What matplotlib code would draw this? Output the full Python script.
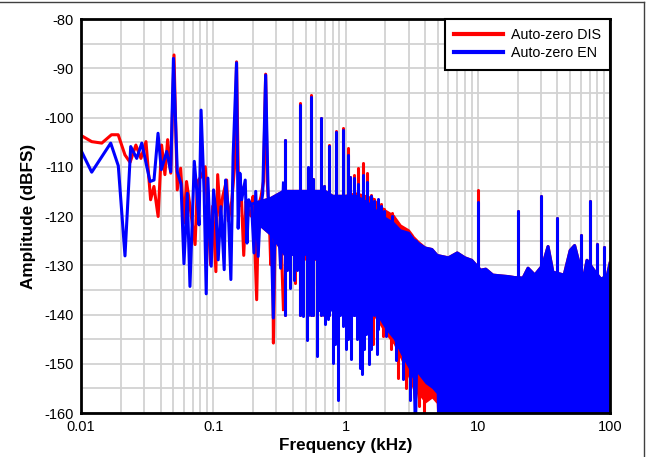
import matplotlib
matplotlib.use("Agg")
import matplotlib.pyplot as plt
from matplotlib.ticker import FixedLocator, LogLocator, MultipleLocator, NullFormatter
from matplotlib.lines import Line2D

plt.rcParams['font.family'] = ['Liberation Sans', 'DejaVu Sans']
plt.rcParams['axes.unicode_minus'] = False

# ---------------- data (frequency in kHz, amplitude in dBFS) ----------------
# low-frequency individual points
en_lf_f = [0.0101, 0.01205, 0.01677, 0.01914, 0.02151, 0.02376, 0.02638, 0.02881, 0.03325, 0.03565,
           0.03823, 0.04048, 0.04446, 0.0477, 0.0500, 0.05345, 0.05704, 0.06004, 0.06361, 0.06667,
           0.0719, 0.07499, 0.0781, 0.0809, 0.08537, 0.08847, 0.09111, 0.09651, 0.1005, 0.1048,
           0.109, 0.1143, 0.121, 0.124, 0.1297, 0.1359, 0.1413, 0.150, 0.1543, 0.159,
           0.164, 0.1745, 0.1799, 0.1855, 0.1952, 0.2033, 0.2095, 0.2186, 0.2262, 0.2366,
           0.249, 0.2603, 0.272, 0.2845, 0.293, 0.307, 0.323, 0.3394]
en_lf_v = [-106.9, -111.1, -105.2, -109.8, -128.1, -105.9, -108.3, -105.2, -113.0, -112.7,
           -103.2, -110.6, -106.9, -111.0, -88.0, -111.0, -113.5, -129.7, -115.4, -134.3,
           -108.9, -114.7, -121.8, -98.5, -115.4, -135.8, -112.3, -130.2, -114.7, -119.4,
           -128.9, -118.1, -130.9, -112.7, -118.4, -132.9, -107.9, -88.9, -122.5, -111.3,
           -116.7, -112.7, -125.5, -116.7, -118.1, -127.5, -115.0, -128.2, -119.4, -115.4,
           -91.4, -116.0, -119.4, -140.7, -121.1, -118.1, -130.6, -113.3]

dis_lf_f = [0.0101, 0.01205, 0.01436, 0.0170, 0.0191, 0.0215, 0.0235, 0.0260, 0.0284, 0.0310,
            0.0336, 0.0356, 0.0383, 0.0407, 0.0431, 0.0452, 0.0477, 0.0505, 0.0534, 0.0567,
            0.0600, 0.0628, 0.0667, 0.0729, 0.076, 0.0809, 0.087, 0.0955, 0.099, 0.1047,
            0.108, 0.113, 0.118, 0.1262, 0.130, 0.138, 0.145, 0.150, 0.156, 0.162,
            0.170, 0.177, 0.185, 0.193, 0.200, 0.213, 0.220, 0.230, 0.240, 0.249,
            0.256, 0.265, 0.272, 0.280, 0.285, 0.295, 0.310, 0.325, 0.3394]
dis_lf_v = [-103.7, -104.9, -105.2, -103.5, -103.5, -107.6, -109.1, -105.6, -108.3, -104.9,
            -116.7, -114.0, -120.1, -105.6, -111.6, -104.5, -111.3, -87.3, -114.7, -110.3,
            -121.4, -113.0, -118.0, -125.8, -113.0, -112.0, -110.0, -129.9, -118.0, -131.3,
            -111.6, -120.0, -116.0, -112.7, -121.0, -117.0, -110.0, -88.7, -118.0, -114.0,
            -128.0, -117.0, -119.0, -120.0, -116.0, -137.0, -118.0, -116.0, -113.0, -91.2,
            -113.0, -120.0, -129.9, -118.0, -145.8, -121.0, -117.0, -124.0, -139.0]

# dense region: envelope of the noise band
env_f = [0.20, 0.27, 0.34, 0.40, 0.50, 0.60, 0.70, 0.80, 0.90, 1.00,
         1.20, 1.40, 1.60, 1.80, 2.00, 2.30, 2.60, 3.00,
         3.20, 3.25, 3.45, 3.50, 4.00, 4.50, 4.85, 4.90,
         6.0, 7.0, 8.0, 9.0, 10.5, 11.5, 13.0, 15.5, 17.0,
         19.0, 22.0, 24.0, 27.0, 31.0, 34.0, 37.0, 45.0,
         50.0, 54.0, 57.0, 63.0, 67.0, 75.0, 85.0, 95.0, 100.0]
en_top = [-117.5, -116.5, -115, -115, -115, -115, -115, -116, -116, -116,
          -116, -117, -118, -120, -120.5, -121.5, -123, -123.5,
          -124.5, -124.8, -125.2, -125.5, -126.5, -126.8, -127.8, -128,
          -128.5, -127.5, -128.5, -129, -131, -130.8, -132, -132.2, -132.3,
          -132.5, -132.6, -130.6, -132, -130, -126.2, -131.4, -132,
          -127, -126, -128.5, -132.8, -129, -130.9, -132.8, -132.3, -129.6]
en_bot = [-121, -124, -128, -128, -128, -129, -129, -130, -131, -133,
          -135, -137, -139, -141, -143, -145, -148, -151,
          -153, -162, -162, -152, -154, -155, -156, -162,
          -162, -162, -162, -162, -162, -162, -162, -162, -162,
          -162, -162, -162, -162, -162, -162, -162, -162,
          -162, -162, -162, -162, -162, -162, -162, -162, -162]
dis_top = [-117.5, -116.5, -115, -115, -115, -115, -115, -116, -116, -116,
           -115.5, -116, -116.5, -118, -119, -120, -122, -123,
           -124, -124.3, -125, -125.2, -126.5, -126.8, -127.8, -128,
           -128.5, -127.5, -128.5, -129, -131, -130.8, -132, -132.2, -132.3,
           -132.5, -132.6, -130.6, -132, -130, -126.2, -131.4, -132,
           -127, -126, -128.5, -132.8, -129, -130.9, -132.8, -132.3, -129.6]
dis_bot = [-121, -124, -128, -128, -129, -129, -130, -131, -132, -134,
           -136, -138, -140, -142, -144, -146, -149, -153,
           -155, -157, -157, -156, -158, -157, -158, -162,
           -162, -162, -162, -162, -162, -162, -162, -162, -162,
           -162, -162, -162, -162, -162, -162, -162, -162,
           -162, -162, -162, -162, -162, -162, -162, -162, -162]

# tones / spurs
spk_f = [0.35, 0.45, 0.52, 0.55, 0.565, 0.65, 0.69, 0.75, 0.85, 0.95,
         1.05, 1.08, 1.15, 1.25, 1.35, 1.45, 1.55, 1.65, 1.75, 1.85,
         1.95, 2.25, 10.0, 20.0, 30.0, 40.0, 60.0, 70.0, 80.0, 90.0]
en_spk = [-104.5, -97.4, -110.0, -95.8, -112.4, -100.1, -114.0, -105.8, -102.9, -102.5,
          -107.6, -112.0, -112.3, -113.5, -111.6, -113.0, -116.0, -117.0, -116.5, -118.0,
          -119.0, -120.0, -117.2, -118.9, -116.0, -120.4, -123.8, -116.9, -125.6, -126.3]
dis_spk = [-104.5, -97.0, -111.0, -95.4, -112.4, -100.0, -114.0, -105.6, -102.8, -102.2,
           -106.2, -112.0, -111.6, -110.3, -109.3, -111.3, -115.7, -116.5, -117.5, -117.6,
           -118.5, -119.4, -114.8, -118.9, -116.0, -120.4, -123.8, -116.9, -125.6, -126.3]

# deep nulls
en_dip_f = [0.36, 0.38, 0.41, 0.43, 0.46, 0.48, 0.509, 0.53, 0.57, 0.605,
            0.63, 0.679, 0.70, 0.74, 0.77, 0.80, 0.83, 0.873, 0.91, 0.962,
            1.0, 1.05, 1.1, 1.16, 1.22, 1.287, 1.33, 1.38, 1.429, 1.5,
            1.55, 1.72, 1.77, 2.03, 2.42, 2.70, 3.07]
en_dip_v = [-131.0, -134.6, -133.0, -131.0, -136.0, -140.4, -145.1, -137.0, -134.0, -148.5,
            -139.0, -137.0, -142.0, -141.0, -139.0, -149.8, -146.0, -157.3, -140.0, -142.4,
            -147.0, -145.0, -149.0, -140.0, -145.0, -150.9, -152.0, -147.0, -144.0, -150.0,
            -147.0, -148.0, -143.0, -144.4, -149.2, -153.0, -157.3]
dis_dip_f = [0.415, 0.569, 0.72, 1.62, 1.93, 2.2, 2.5, 2.85, 3.6, 3.9, 4.3]
dis_dip_v = [-133.6, -135.0, -139.0, -146.0, -144.4, -147.1, -152.9, -155.0, -158.6, -160.5, -157.0]

series_names = ['Auto-zero DIS', 'Auto-zero EN']
series_colors = ['#ff0000', '#0000ff']
yticks = [-80, -90, -100, -110, -120, -130, -140, -150, -160]
xticks = [0.01, 0.1, 1, 10, 100]
xticklabels = ['0.01', '0.1', '1', '10', '100']

# ---------------- figure ----------------
W, H = 654, 457
fig = plt.figure(figsize=(W / 100, H / 100), dpi=100)
ax = fig.add_axes([81 / W, (H - 413) / H, (610 - 81) / W, (413 - 19) / H])
ax.set_xscale('log')
ax.set_xlim(0.01, 100)
ax.set_ylim(-160, -80)

LW = 2.2

def draw(lf_f, lf_v, top, bot, spk, dip_f, dip_v, color, z):
    ax.fill_between(env_f, bot, top, color=color, lw=0, zorder=z)
    ax.plot(env_f, top, color=color, lw=LW, zorder=z, solid_joinstyle='round')
    ax.plot(lf_f, lf_v, color=color, lw=LW, zorder=z, solid_joinstyle='round')
    ax.vlines(spk_f, -140, spk, color=color, lw=LW, zorder=z, capstyle='round')
    ax.vlines(dip_f, dip_v, -127.5, color=color, lw=LW, zorder=z, capstyle='round')

draw(dis_lf_f, dis_lf_v, dis_top, dis_bot, dis_spk, dis_dip_f, dis_dip_v, series_colors[0], 3)
draw(en_lf_f, en_lf_v, en_top, en_bot, en_spk, en_dip_f, en_dip_v, series_colors[1], 4)

# grid / ticks
ax.xaxis.set_major_locator(FixedLocator(xticks))
ax.set_xticklabels(xticklabels)
ax.xaxis.set_minor_locator(LogLocator(base=10, subs=range(2, 10)))
ax.xaxis.set_minor_formatter(NullFormatter())
ax.set_yticks(yticks)
ax.yaxis.set_minor_locator(MultipleLocator(5))
ax.grid(which='both', color='#d2d2d2', lw=1.3, zorder=0)
ax.set_axisbelow(True)
ax.tick_params(which='both', length=0, labelsize=10.5, pad=5, colors='black')
for s in ax.spines.values():
    s.set_linewidth(2)
    s.set_color('black')
    s.set_zorder(10)

ax.set_xlabel('Frequency (kHz)', fontsize=12.3, fontweight='bold', labelpad=3)
ax.set_ylabel('Amplitude (dBFS)', fontsize=12.3, fontweight='bold', labelpad=6)

handles = [Line2D([], [], color=c, lw=3) for c in series_colors]
leg = ax.legend(handles, series_names, loc='upper right', borderaxespad=0, fontsize=10.3,
                handlelength=3.4, handletextpad=0.55, labelspacing=0.28, borderpad=0.65,
                fancybox=False, framealpha=1, edgecolor='black')
leg.get_frame().set_linewidth(1.5)
leg.set_zorder(20)

# outer frame lines of the figure image
fig.add_artist(Line2D([0, 643.5 / W], [1 - 1.5 / H, 1 - 1.5 / H], transform=fig.transFigure,
                      color='#404040', lw=1))
fig.add_artist(Line2D([643.5 / W, 643.5 / W], [0, 1 - 1.5 / H], transform=fig.transFigure,
                      color='#404040', lw=1))

fig.savefig('out.png', dpi=100)
